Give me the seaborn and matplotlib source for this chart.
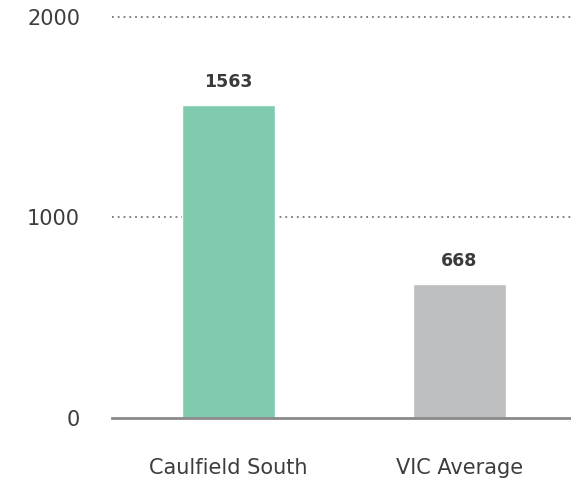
import matplotlib
matplotlib.use("Agg")
import matplotlib.pyplot as plt
import seaborn as sns
import pandas as pd

categories = ["Caulfield South", "VIC Average"]
values = [1563, 668]
colors = ["#80CBAD", "#BDBEC0"]
yticks = [0, 1000, 2000]

sns.set_style("white")
plt.rcParams['font.family'] = ['DejaVu Sans']

fig = plt.figure(figsize=(5.71, 4.86), dpi=100)
ax = fig.add_axes([112/571, 1-417.5/486, 1-112/571, (417.5-17)/486])

df = pd.DataFrame({"cat": categories, "val": values})
sns.barplot(data=df, x="cat", y="val", hue="cat", palette=colors, width=0.4,
            legend=False, ax=ax, saturation=1)

ax.set_ylim(0, 2000)
ax.set_xlim(-0.504, 1.483)
ax.set_yticks(yticks)
ax.set_yticklabels([str(t) for t in yticks], fontsize=15, color="#3d3d3d")
ax.tick_params(axis='y', length=0, pad=23)
ax.tick_params(axis='x', length=0, pad=29, labelsize=15, labelcolor="#3d3d3d")
ax.set_xlabel("")
ax.set_ylabel("")
for s in ["top", "right", "left"]:
    ax.spines[s].set_visible(False)
ax.spines["bottom"].set_color("#8a8a8a")
ax.spines["bottom"].set_linewidth(2)

for y in [1000, 2000]:
    ax.axhline(y, color="#777777", linestyle=(0, (1, 2.2)), linewidth=1.3, zorder=0, clip_on=False)

for i, v in enumerate(values):
    ax.annotate(str(v), (i, v), xytext=(0, 10), textcoords="offset points",
                ha="center", va="bottom", fontsize=12.5, fontweight="bold", color="#3a3a3a")

fig.savefig("out.png", dpi=100)
